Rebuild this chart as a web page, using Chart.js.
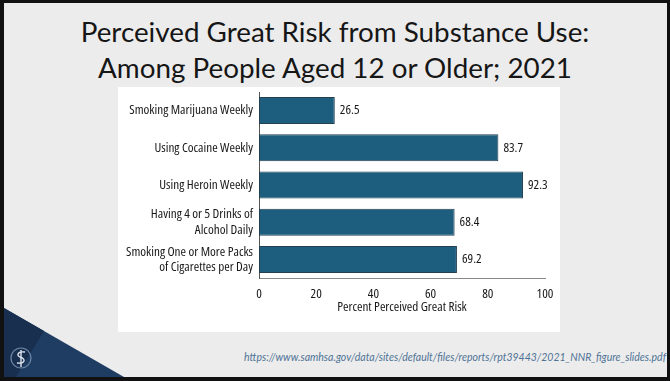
<!DOCTYPE html>
<html>
<head>
<meta charset="utf-8">
<script src="https://cdn.jsdelivr.net/npm/chart.js@4/dist/chart.umd.min.js"></script>
<style>
  html, body { margin:0; padding:0; }
  body { width:670px; height:381px; background:#111; position:relative; overflow:hidden; }
  #slide { position:absolute; left:4px; top:3px; width:663px; height:374px; background:#ececec; overflow:hidden; }
  #title { position:absolute; left:0; top:14px; width:670px; text-align:center; font-family:Lato, sans-serif; font-size:27.8px; line-height:36px; color:#161616; }
  #panel { position:absolute; left:118px; top:87px; width:442px; height:245px; background:#fff; }
  #url { position:absolute; right:4px; top:351px; font-family:Lato, sans-serif; font-style:italic; font-size:10.5px; color:#4f7396; white-space:nowrap; }
  #deco { position:absolute; left:0; top:0; }
</style>
</head>
<body>
<div id="slide"></div>
<svg id="deco" width="670" height="381">
  <polygon points="4,308 124,377 4,377" fill="#1f3d63"/>
  <polygon points="4,308 44,331 16,377 4,377" fill="#182f50"/>
  <circle cx="21" cy="358" r="10" fill="none" stroke="#6f86a6" stroke-width="1.2"/>
  <line x1="21" y1="350" x2="21" y2="367" stroke="#dfe6ef" stroke-width="1.4"/>
  <path d="M25,352 C17,351 16,356 21,357.5 C26,359 25,364 17,363" fill="none" stroke="#dfe6ef" stroke-width="1.4"/>
</svg>
<div id="title">Perceived Great Risk from Substance Use:<br>Among People Aged 12 or Older; 2021</div>
<div id="panel"><canvas id="c" width="442" height="245"></canvas></div>
<div id="url">https://www.samhsa.gov/data/sites/default/files/reports/rpt39443/2021_NNR_figure_slides.pdf</div>
<script>
const categories = [
  "Smoking Marijuana Weekly",
  "Using Cocaine Weekly",
  "Using Heroin Weekly",
  ["Having 4 or 5 Drinks of", "Alcohol Daily"],
  ["Smoking One or More Packs", "of Cigarettes per Day"]
];
const values = [26.5, 83.7, 92.3, 68.4, 69.2];
const xTicks = [0, 20, 40, 60, 80, 100];
const xTitle = "Percent Perceived Great Risk";

const FAMILY = "'Open Sans', 'DejaVu Sans Condensed', sans-serif";
const STRETCH = "condensed";   // passed through Chart.js font "weight" slot
const SIZE = 13.2;
const TXT = "#181818";
const fontOpt = { family: FAMILY, size: SIZE, weight: STRETCH, lineHeight: 1.1 };
const yFontOpt = { family: FAMILY, size: SIZE, weight: STRETCH, lineHeight: 1.15 };

const valueLabels = {
  id: 'valueLabels',
  afterDatasetsDraw(chart) {
    const ctx = chart.ctx;
    const meta = chart.getDatasetMeta(0);
    ctx.save();
    ctx.font = STRETCH + " " + SIZE + "px " + FAMILY;
    ctx.fillStyle = TXT;
    ctx.textAlign = 'left';
    ctx.textBaseline = 'middle';
    meta.data.forEach((bar, i) => {
      ctx.fillText(values[i].toFixed(1), bar.x + 5, bar.y);
    });
    ctx.restore();
  }
};

new Chart(document.getElementById('c'), {
  type: 'bar',
  data: {
    labels: categories,
    datasets: [{
      data: values,
      backgroundColor: '#1d5d7e',
      borderColor: '#23404f',
      borderWidth: 1,
      borderSkipped: false,
      categoryPercentage: 1,
      barPercentage: 0.725
    }]
  },
  options: {
    indexAxis: 'y',
    responsive: false,
    devicePixelRatio: 1,
    animation: false,
    layout: { padding: { left: 0, right: 15, top: 5, bottom: 0 } },
    plugins: { legend: { display: false }, tooltip: { enabled: false } },
    scales: {
      x: {
        min: 0, max: 100,
        afterBuildTicks(scale) { scale.ticks = xTicks.map(v => ({ value: v })); },
        afterFit(scale) { scale.height = 54; scale.paddingLeft = 0; scale.paddingRight = 0; },
        grid: { display: false, drawTicks: false },
        border: { display: true, color: '#8a8a8a', width: 1 },
        ticks: { color: TXT, font: fontOpt, padding: 9 },
        title: { display: true, text: xTitle, color: TXT, font: fontOpt, padding: { top: 0, bottom: 17 } }
      },
      y: {
        afterFit(scale) { scale.width = 141; scale.paddingTop = 0; scale.paddingBottom = 0; },
        grid: { display: false, drawTicks: false },
        border: { display: true, color: '#555', width: 1 },
        ticks: { color: TXT, font: yFontOpt, padding: 6, autoSkip: false }
      }
    }
  },
  plugins: [valueLabels]
});
</script>
</body>
</html>
